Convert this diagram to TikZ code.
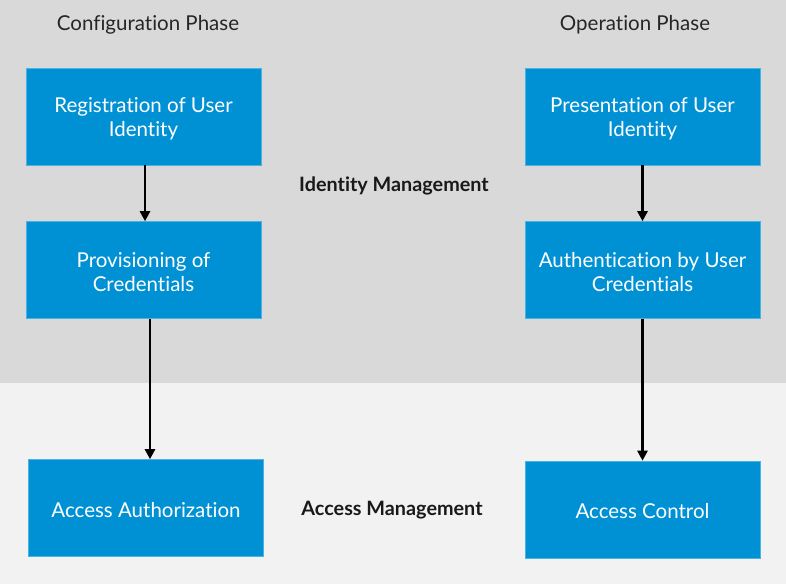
\documentclass[tikz,border=0pt]{standalone}
\usepackage{fontspec}
\setmainfont{Lato}[Ligatures={NoCommon}]
\usetikzlibrary{arrows.meta}
\definecolor{bandtop}{HTML}{D9D9D9}
\definecolor{bandbot}{HTML}{F2F2F2}
\definecolor{sapblue}{HTML}{0091D5}
\tikzset{
  box/.style={fill=sapblue, draw=sapblue!70!white, line width=0.6pt, minimum width=235pt, minimum height=97pt,
    text=white, align=center, font=\fontsize{20.5}{24}\selectfont, inner sep=0pt},
  boxtext/.style={text=white, align=center, font=\fontsize{20.5}{24}\selectfont},
  phase/.style={font=\fontsize{20.5}{24}\selectfont, text=black!85},
  mgmt/.style={font=\bfseries\fontsize{19.8}{24}\selectfont, text=black!90},
  conn/.style={line width=2.8pt, -{Triangle[width=10pt,length=10pt]}}
}
\begin{document}
\begin{tikzpicture}[x=1pt,y=-1pt]
\useasboundingbox (0,0) rectangle (786,584);
\fill[bandtop] (0,0) rectangle (786,383);
\fill[bandbot] (0,383) rectangle (786,584);
\node[phase] (cp) at (148,25) {Configuration Phase};
\node[phase] (op) at (635,25) {Operation Phase};
\node[mgmt] (im) at (394,186) {Identity Management};
\node[mgmt] (am) at (392,510) {Access Management};
\node[box] (reg) at (143.5,116.5) {};
\node[box] (prov) at (143.5,270) {};
\node[box] (auth) at (146,508) {};
\node[box] (pres) at (642.5,116.5) {};
\node[box] (authn) at (642.5,270) {};
\node[box] (ac) at (642.5,509.5) {};
\node[boxtext] (regt) at ([yshift=-2pt]reg.center) {Registration of User\\Identity};
\node[boxtext] (provt) at ([yshift=-2pt]prov.center) {Provisioning of\\Credentials};
\node[boxtext] (autht) at ([yshift=-2pt]auth.center) {Access Authorization};
\node[boxtext] (prest) at ([yshift=-2pt]pres.center) {Presentation of User\\Identity};
\node[boxtext] (authnt) at ([yshift=-2pt]authn.center) {Authentication by User\\Credentials};
\node[boxtext] (act) at ([yshift=-2pt]ac.center) {Access Control};
\draw[conn] ([xshift=1.5pt]reg.south) -- ([xshift=1.5pt]prov.north);
\draw[conn] ([xshift=6.5pt]prov.south) -- ([xshift=4pt]auth.north);
\draw[conn] (pres.south) -- (authn.north);
\draw[conn] (authn.south) -- (ac.north);
\end{tikzpicture}
\end{document}
